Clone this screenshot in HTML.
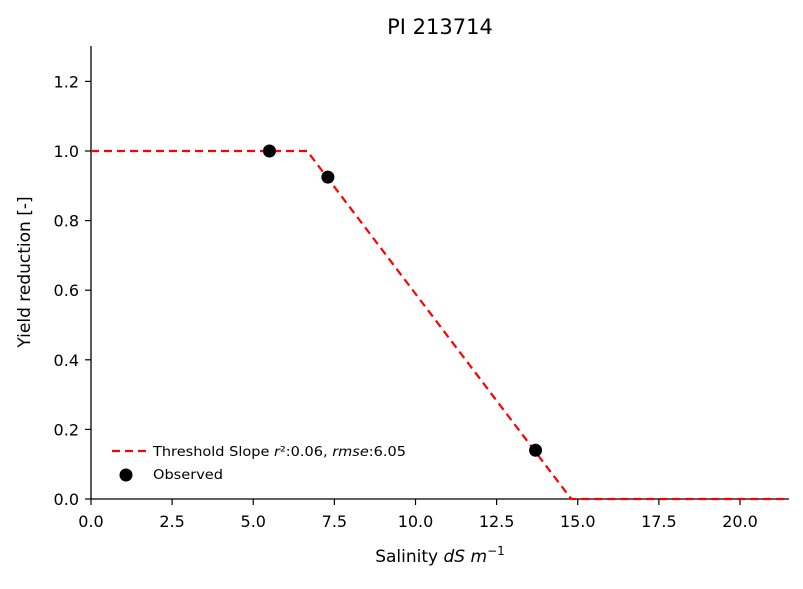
<!DOCTYPE html>
<html><head><meta charset="utf-8"><style>
body{margin:0;background:#fff;font-family:"DejaVu Sans","Liberation Sans",sans-serif}
svg text{font-family:"DejaVu Sans","Liberation Sans",sans-serif;fill:#000}
</style></head><body>
<svg id="chart" width="803" height="585" xmlns="http://www.w3.org/2000/svg">
<text x="440" y="34" font-size="21" text-anchor="middle">PI 213714</text>
<g id="plot"></g>
<text x="440" y="562" font-size="17" text-anchor="middle">Salinity <tspan font-style="italic">dS m</tspan><tspan font-size="12" dy="-7">−1</tspan></text>
<text transform="translate(30,272) rotate(-90)" font-size="17" text-anchor="middle">Yield reduction [-]</text>
<g>
<line x1="112" y1="451" x2="146" y2="451" stroke="red" stroke-width="2.2" stroke-dasharray="8,5"/>
<text x="153" y="456" font-size="13" textLength="253" lengthAdjust="spacingAndGlyphs">Threshold Slope <tspan font-style="italic">r</tspan>²:0.06, <tspan font-style="italic">rmse</tspan>:6.05</text>
<circle cx="126" cy="475" r="6.5" fill="#000"/>
<text x="153" y="479" font-size="13" textLength="70" lengthAdjust="spacingAndGlyphs">Observed</text>
</g>
</svg>
<script>
const xTicks=[0,2.5,5,7.5,10,12.5,15,17.5,20];
const yTicks=[0,0.2,0.4,0.6,0.8,1.0,1.2];
const obsX=[5.5,7.3,13.7];
const obsY=[1.0,0.925,0.14];
const fitX=[0,6.66,14.8,21.6];
const fitY=[1.0,1.0,0,0];
const X0=91,XU=32.45,Y0=499,YU=348;
const sx=v=>X0+v*XU, sy=v=>Y0-v*YU;
const NS="http://www.w3.org/2000/svg";
const g=document.getElementById('plot');
function mk(t,a){const e=document.createElementNS(NS,t);for(const k in a)e.setAttribute(k,a[k]);g.appendChild(e);return e;}
let ax=mk('line',{x1:91,y1:499,x2:789,y2:499,stroke:'#000','stroke-width':1.3});


let ay=mk('line',{x1:91,y1:46,x2:91,y2:499,stroke:'#000','stroke-width':1.3});


xTicks.forEach(v=>{
 const t=mk('line',{x1:sx(v),y1:499,x2:sx(v),y2:505,stroke:'#000','stroke-width':1.2});
 
 
 const l=mk('text',{x:sx(v),y:527,'font-size':16,'text-anchor':'middle'});
 l.textContent=v.toFixed(1);
 
 
});
yTicks.forEach(v=>{
 const t=mk('line',{x1:85,y1:sy(v),x2:91,y2:sy(v),stroke:'#000','stroke-width':1.2});
 
 
 const l=mk('text',{x:79,y:sy(v)+6,'font-size':16,'text-anchor':'end'});
 l.textContent=v.toFixed(1);
 
 
});
const pts=fitX.map((x,i)=>Math.min(sx(x),789)+','+sy(fitY[i])).join(' ');
const fl=mk('polyline',{points:pts,fill:'none',stroke:'red','stroke-width':2.2,'stroke-dasharray':'8,5'});


obsX.forEach((x,i)=>{
 const c=mk('circle',{cx:sx(x),cy:sy(obsY[i]),r:6.5,fill:'#000'});
 
 
});
</script>
</body></html>
